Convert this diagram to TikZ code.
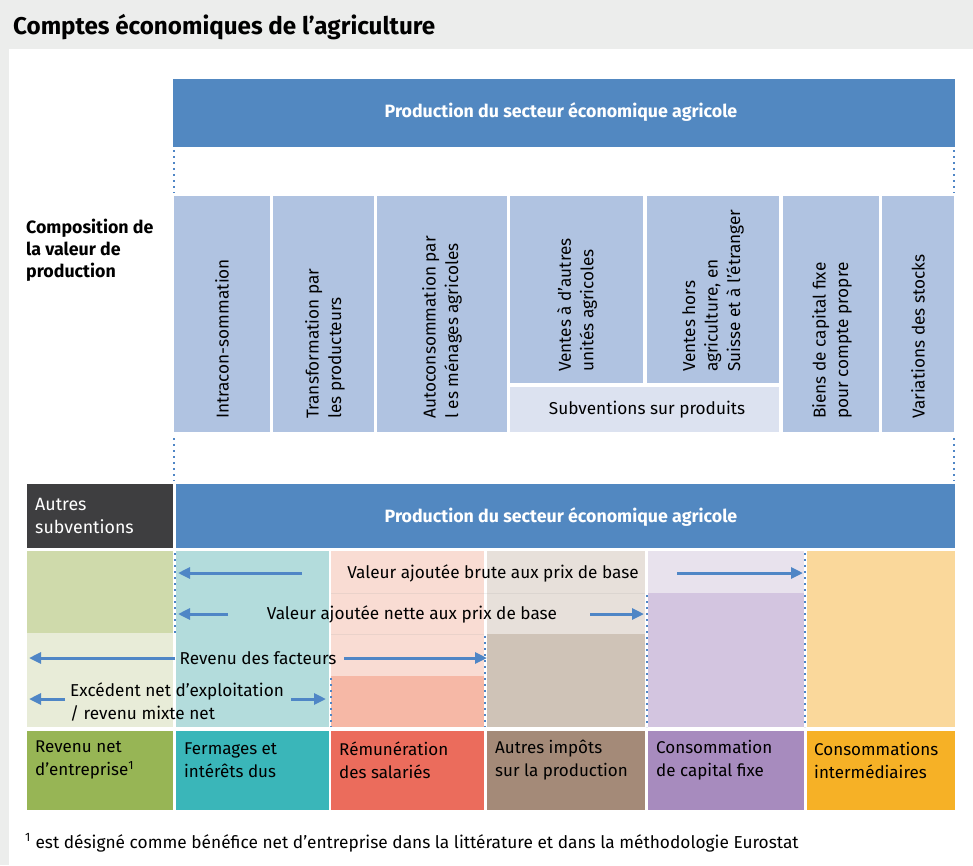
\documentclass[tikz,border=0pt]{standalone}
\usepackage{fontspec}
\setmainfont{Fira Sans}
\usetikzlibrary{arrows.meta}

\definecolor{framegrey}{RGB}{236,237,236}
\definecolor{prodblue}{RGB}{82,136,193}
\definecolor{compblue}{RGB}{176,195,225}
\definecolor{subvblue}{RGB}{220,226,240}
\definecolor{darkgrey}{RGB}{62,62,64}
\definecolor{arrowblue}{RGB}{79,134,198}
\definecolor{greenA}{RGB}{207,218,171}
\definecolor{paleA}{RGB}{232,236,216}
\definecolor{strongA}{RGB}{151,181,85}
\definecolor{tealB}{RGB}{179,220,220}
\definecolor{strongB}{RGB}{58,182,185}
\definecolor{paleC}{RGB}{249,220,211}
\definecolor{lightC}{RGB}{246,184,166}
\definecolor{strongC}{RGB}{235,108,92}
\definecolor{paleD}{RGB}{231,224,218}
\definecolor{lightD}{RGB}{207,195,183}
\definecolor{strongD}{RGB}{164,138,120}
\definecolor{paleE}{RGB}{232,226,237}
\definecolor{lightE}{RGB}{211,197,224}
\definecolor{strongE}{RGB}{167,139,190}
\definecolor{lightF}{RGB}{250,216,155}
\definecolor{strongF}{RGB}{246,177,38}

\begin{document}
\begin{tikzpicture}[x=1pt, y=-1pt,
    body/.style={inner sep=0pt, font=\fontsize{17.2}{22.5}\selectfont},
    head/.style={inner sep=0pt, text=white, font=\fontsize{17.8}{22.5}\selectfont\bfseries},
    coltext/.style={body, rotate=90, anchor=west, align=left},
    label/.style={inner sep=0pt, anchor=west, align=left, font=\fontsize{17}{23}\selectfont},
    flow/.style={arrowblue, line width=3pt, -{Triangle[length=12pt, width=11pt]}},
    cut/.style={arrowblue, line width=2pt, dash pattern=on 2pt off 4pt},
    faint/.style={white!60!black, line width=0.3pt, opacity=0.15}]
    \useasboundingbox (0,0) rectangle (973,865);

    % Frame
    \fill[framegrey] (0,0) rectangle (973,865);
    \fill[white] (9,49) rectangle (973,865);
    \node[inner sep=0pt, anchor=base west, font=\fontsize{24.2}{27}\selectfont\bfseries] (title) at (13,34) {Comptes économiques de l’agriculture};

    % Production, top
    \fill[prodblue] (173,79) rectangle (955,147);
    \node[head] (prodtop) at (561,112) {Production du secteur économique agricole};
    \draw[cut] (174,150) -- (174,193);
    \draw[cut] (954,150) -- (954,193);

    \node[inner sep=0pt, anchor=west, align=left, font=\fontsize{17.8}{22}\selectfont\bfseries] (compo) at (26,250) {Composition de\\la valeur de\\production};

    % Composition columns
    \fill[compblue] (174,196) rectangle (270,432);
    \fill[compblue] (273,196) rectangle (374,432);
    \fill[compblue] (377,196) rectangle (507,432);
    \fill[compblue] (510,196) rectangle (643,383);
    \fill[compblue] (647,196) rectangle (779,383);
    \fill[subvblue] (510,387) rectangle (779,432);
    \fill[compblue] (783,196) rectangle (879,432);
    \fill[compblue] (882,196) rectangle (954,432);
    \node[coltext] (intra) at (222,419) {Intracon-sommation};
    \node[coltext] (transf) at (325,419) {Transformation par\\les producteurs};
    \node[coltext] (autoc) at (442,419) {Autoconsommation par\\l es ménages agricoles};
    \node[coltext] (ventagr) at (577,372) {Ventes à d’autres\\unités agricoles};
    \node[coltext] (venthors) at (713,372) {Ventes hors\\agriculture, en\\Suisse et à l’étranger};
    \node[body] (subvprod) at (647,410) {Subventions sur produits};
    \node[coltext] (biens) at (832,419) {Biens de capital fixe\\pour compte propre};
    \node[coltext] (varstock) at (918,419) {Variations des stocks};
    \draw[cut] (174,438) -- (174,481);
    \draw[cut] (954,438) -- (954,481);

    % Production, bottom
    \fill[darkgrey] (27,484) rectangle (173,548);
    \node[body, text=white, anchor=west, align=left, font=\fontsize{17.8}{23}\selectfont] (autsubv) at (35,516) {Autres\\subventions};
    \fill[prodblue] (176,484) rectangle (955,548);
    \node[head] (prodbot) at (561,517) {Production du secteur économique agricole};

    % Value added band
    \fill[greenA] (27,551) rectangle (173,633);
    \fill[paleA] (27,633) rectangle (173,727);
    \fill[tealB] (176,551) rectangle (329,727);
    \fill[paleC] (331,551) rectangle (484,676);
    \fill[lightC] (331,676) rectangle (484,727);
    \fill[paleD] (487,551) rectangle (645,634);
    \fill[lightD] (487,634) rectangle (645,727);
    \fill[paleE] (648,551) rectangle (804,593);
    \fill[lightE] (648,593) rectangle (804,727);
    \fill[lightF] (807,551) rectangle (955,727);
    \draw[faint] (331,593) -- (645,593);
    \draw[faint] (331,634) -- (484,634);

    \draw[cut] (175,553) -- (175,633);
    \draw[cut] (331,678) -- (331,727);
    \draw[cut] (485,636) -- (485,727);
    \draw[cut] (647,595) -- (647,727);
    \draw[cut] (805,553) -- (805,727);

    \node[body] (vab) at (493,573) {Valeur ajoutée brute aux prix de base};
    \node[body] (van) at (412,614) {Valeur ajoutée nette aux prix de base};
    \node[body] (revfac) at (258,658) {Revenu des facteurs};
    \node[body, anchor=west, align=left] (ene) at (70,702) {Excédent net d’exploitation\\/ revenu mixte net};

    \coordinate (vab-l) at (302,573);  \coordinate (vab-le) at (178,573);
    \coordinate (vab-r) at (677,573);  \coordinate (vab-re) at (803,573);
    \coordinate (van-l) at (228,614);  \coordinate (van-le) at (178,614);
    \coordinate (van-r) at (590,614);  \coordinate (van-re) at (644,614);
    \coordinate (rf-l) at (175,658);   \coordinate (rf-le) at (29,658);
    \coordinate (rf-r) at (344,658);   \coordinate (rf-re) at (487,658);
    \coordinate (ene-l) at (65,699);   \coordinate (ene-le) at (29,699);
    \coordinate (ene-r) at (291,699);  \coordinate (ene-re) at (326,699);
    \draw[flow] (vab-l) -- (vab-le);
    \draw[flow] (vab-r) -- (vab-re);
    \draw[flow] (van-l) -- (van-le);
    \draw[flow] (van-r) -- (van-re);
    \draw[flow] (rf-l) -- (rf-le);
    \draw[flow] (rf-r) -- (rf-re);
    \draw[flow] (ene-l) -- (ene-le);
    \draw[flow] (ene-r) -- (ene-re);

    % Components
    \fill[strongA] (27,731) rectangle (173,810);
    \fill[strongB] (176,731) rectangle (329,810);
    \fill[strongC] (331,731) rectangle (484,810);
    \fill[strongD] (487,731) rectangle (645,810);
    \fill[strongE] (648,731) rectangle (804,810);
    \fill[strongF] (807,731) rectangle (955,810);
    \node[label] (revnet) at (35,760) {Revenu net\\d’entreprise\textsuperscript{1}};
    \node[label] (fermag) at (184,760) {Fermages et\\intérêts dus};
    \node[label] (remun) at (339,760) {Rémunération\\des salariés};
    \node[label] (impots) at (495,760) {Autres impôts\\sur la production};
    \node[label] (conscap) at (656,760) {Consommation\\de capital fixe};
    \node[label] (consint) at (814,760) {Consommations\\intermédiaires};

    \node[inner sep=0pt, anchor=base west, font=\fontsize{17.3}{20}\selectfont] (fnote) at (25,848) {\textsuperscript{1} est désigné comme bénéfice net d’entreprise dans la littérature et dans la méthodologie Eurostat};
\end{tikzpicture}
\end{document}
